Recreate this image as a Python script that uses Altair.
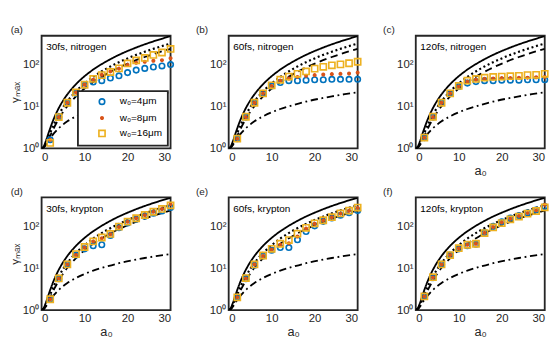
import altair as alt
import pandas as pd

# ---------------- data ----------------
a_curve = [0, 0.5, 1, 1.5, 2, 3, 4, 5, 6, 8, 10, 12, 15, 18, 21, 24, 27, 30]
g_solid = [1, 1.125, 1.5, 2.13, 3, 5.5, 9, 13.5, 19, 33, 51, 73, 113, 163, 221, 289, 365, 451]
g_dotted = [1, 1.08, 1.33, 1.75, 2.33, 4, 6.3, 9.3, 13, 22.3, 34.3, 49, 76, 109, 148, 193, 244, 301]
g_dashed = [1, 1.06, 1.25, 1.56, 2, 3.25, 5, 7.25, 10, 17, 26, 37, 57, 82, 111, 145, 183, 226]
g_dashdot = [1, 1.06, 1.22, 1.46, 1.73, 2.35, 3, 3.67, 4.36, 5.74, 7.14, 8.54, 10.6, 12.8, 14.9, 17, 19.1, 21.2]

a_pts = [2, 4, 6, 8, 10, 12, 14, 16, 18, 20, 22, 24, 26, 28, 30]

panel_letters = ["(a)", "(b)", "(c)", "(d)", "(e)", "(f)"]
panel_labels = ["30fs, nitrogen", "60fs, nitrogen", "120fs, nitrogen",
                "30fs, krypton", "60fs, krypton", "120fs, krypton"]

w4 = [
    [1.6, 5.5, 12, 20, 31, 37, 40, 46, 52, 62, 71, 78, 84, 89, 96],
    [1.7, 5.5, 12, 20, 30, 36, 40, 40, 41, 42, 42, 43, 43, 43, 43],
    [1.8, 5.5, 12, 20, 29, 35, 38, 40, 40, 41, 41, 41, 42, 42, 42],
    [1.8, 5.5, 12, 20, 28, 33, 35, 58, 88, 115, 140, 165, 195, 220, 265],
    [2.0, 5.5, 11.5, 19, 26, 30, 30, 46, 72, 98, 125, 150, 175, 200, 225],
    [2.1, 5.8, 12, 20, 28, 33, 36, 68, 95, 122, 150, 172, 200, 232, 280],
]
w8 = [
    [1.6, 5.5, 12, 21, 32, 42, 55, 66, 77, 94, 106, 112, 118, 122, 136],
    [1.7, 5.5, 12, 20, 30, 40, 45, 49, 52, 54, 56, 57, 58, 59, 62],
    [1.8, 5.5, 12, 20, 29, 38, 42, 44, 45, 46, 46, 47, 47, 48, 49],
    [1.8, 5.6, 12, 20, 30, 42, 50, 62, 92, 122, 148, 175, 210, 245, 320],
    [2.0, 5.6, 12, 19, 27, 35, 38, 55, 85, 110, 132, 156, 190, 222, 260],
    [2.1, 5.9, 12, 20, 29, 35, 37, 67, 92, 118, 145, 168, 198, 228, 310],
]
w16 = [
    [1.35, 5.5, 12, 21, 32, 44, 54, 64, 78, 102, 120, 138, 162, 185, 225],
    [1.7, 5.6, 12, 20, 31, 42, 50, 58, 66, 77, 85, 92, 97, 103, 112],
    [1.8, 5.6, 12, 20, 30, 40, 44, 47, 49, 50, 51, 52, 54, 55, 58],
    [1.8, 5.6, 12, 21, 31, 42, 52, 63, 94, 123, 148, 177, 211, 246, 300],
    [2.0, 5.7, 12, 19.5, 28, 37, 45, 64, 88, 112, 133, 157, 193, 224, 265],
    [2.1, 6.0, 12, 20, 29, 35, 37, 66, 90, 114, 140, 162, 190, 220, 268],
]

series = ["w₀=4μm", "w₀=8μm", "w₀=16μm"]
styles = ["solid", "dotted", "dashed", "dashdot"]

# ---------------- styling ----------------
FONT = "Liberation Sans"
BLUE, RED, YEL = "#0072BD", "#D95319", "#EDB120"
W, H = 142, 124

curve_df = pd.DataFrame({
    "a": a_curve * 4,
    "g": g_solid + g_dotted + g_dashed + g_dashdot,
    "style": sum([[s] * len(a_curve) for s in styles], []),
})


def make_panel(i):
    col = i % 3
    xscale = alt.Scale(domain=[0, 30], nice=False, zero=False)
    yscale = alt.Scale(type="log", domain=[1, 460], nice=False)
    show_xtitle = i >= 2
    show_ytitle = col == 0
    xaxis = alt.Axis(values=[0, 10, 20, 30], title="a₀" if show_xtitle else None,
                     ticks=False, domain=False, grid=False, labelPadding=3,
                     labelFontSize=12.5, titleFontSize=14, titlePadding=2,
                     labelFont=FONT, titleFont=FONT, labelColor="#262626",
                     titleColor="#262626", titleFontWeight="normal")
    yaxis = alt.Axis(values=[1, 10, 100],
                     labelExpr="datum.value == 1 ? '10⁰' : (datum.value == 10 ? '10¹' : '10²')",
                     title="γₘₐₓ" if show_ytitle else None,
                     ticks=False, domain=False, grid=False, labelPadding=3,
                     labelFontSize=12.5, titleFontSize=13, titlePadding=1,
                     labelFont=FONT, titleFont=FONT, labelColor="#262626",
                     titleColor="#262626", titleFontWeight="normal")

    lines = alt.Chart(curve_df).mark_line(color="black", clip=True, interpolate="monotone").encode(
        x=alt.X("a:Q", scale=xscale, axis=xaxis),
        y=alt.Y("g:Q", scale=yscale, axis=yaxis),
        strokeDash=alt.StrokeDash("style:N", scale=alt.Scale(domain=styles,
                                  range=[[1, 0], [2.2, 3], [8, 5], [8, 4, 2, 4]]), legend=None),
        strokeWidth=alt.StrokeWidth("style:N", scale=alt.Scale(type="ordinal", domain=styles,
                                    range=[2, 2.4, 2, 2]), legend=None),
        detail="style:N",
    )

    pts_df = pd.DataFrame({
        "a": a_pts * 3,
        "g": w4[i] + w8[i] + w16[i],
        "w": sum([[s] * len(a_pts) for s in series], []),
    })
    if i == 0:
        leg = alt.Legend(title=None, orient="bottom-right", offset=3, padding=6,
                         symbolOffset=15, labelOffset=14, rowPadding=4,
                         labelFontSize=11, labelFont=FONT, labelColor="black",
                         strokeColor="#262626", fillColor="white",
                         symbolStrokeWidth=1.8)
    else:
        leg = None
    pts = alt.Chart(pts_df).mark_point(filled=False, strokeWidth=1.8, opacity=1, clip=False).encode(
        x=alt.X("a:Q", scale=xscale, axis=xaxis),
        y=alt.Y("g:Q", scale=yscale, axis=yaxis),
        stroke=alt.Stroke("w:N", scale=alt.Scale(domain=series, range=[BLUE, RED, YEL]), legend=leg),
        fill=alt.Fill("w:N", scale=alt.Scale(domain=series, range=["transparent", RED, "transparent"]), legend=leg),
        shape=alt.Shape("w:N", scale=alt.Scale(domain=series, range=["circle", "circle", "square"]), legend=leg),
        size=alt.Size("w:N", scale=alt.Scale(type="ordinal", domain=series, range=[36, 7, 46]), legend=leg),
        order=alt.Order("idx:Q"),
    ).transform_calculate(idx="indexof(['w₀=4μm','w₀=8μm','w₀=16μm'], datum.w)")

    txt = alt.Chart(pd.DataFrame({"t": [panel_labels[i]]})).mark_text(
        align="left", baseline="middle", fontSize=11, font=FONT, color="black"
    ).encode(text="t:N", x=alt.value(5), y=alt.value(13))

    return alt.layer(lines, pts, txt).properties(
        width=W, height=H,
        title=alt.TitleParams(panel_letters[i], anchor="start", frame="group",
                              dx=-36 if col else -34, offset=1, fontSize=11, font=FONT,
                              fontWeight="normal", color="#262626"),
    )


panels = [make_panel(i) for i in range(6)]

chart = alt.concat(*panels, columns=3, spacing={"row": 8, "column": 19},
                   padding={"left": 0, "top": 0, "right": 0, "bottom": 0}).resolve_scale(
    stroke="independent", fill="independent", shape="independent", size="independent",
    strokeDash="independent", strokeWidth="independent",
).resolve_legend(
    stroke="independent", fill="independent", shape="independent", size="independent",
    strokeDash="independent", strokeWidth="independent",
).configure_view(stroke="#262626", strokeWidth=2).configure_legend(strokeWidth=2).properties(
    background="white")

chart.save("out.html", embed_options={"renderer": "svg", "actions": False})
